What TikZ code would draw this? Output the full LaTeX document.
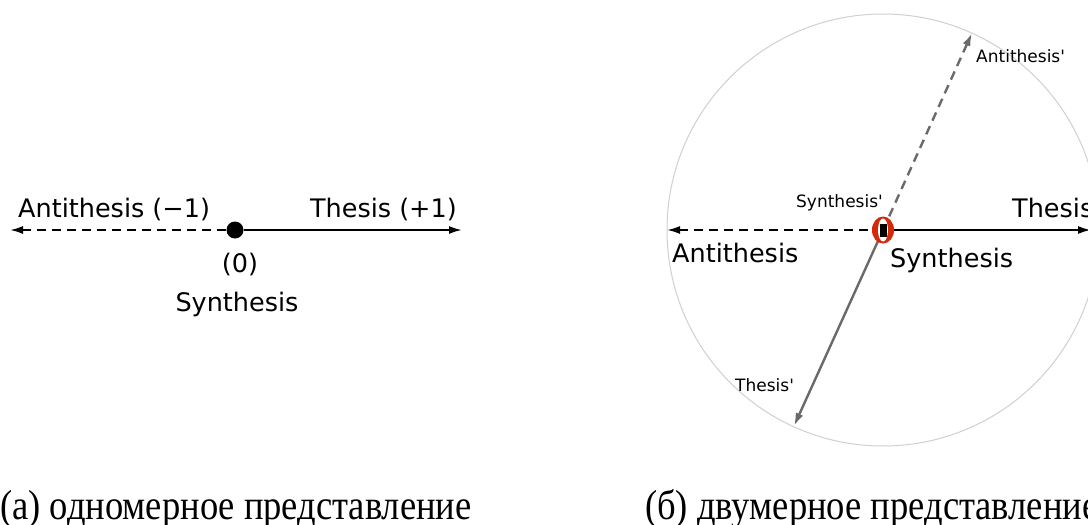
\documentclass[tikz,border=0pt]{standalone}
\usepackage{fontspec}
\setmainfont{Liberation Serif}
\newfontfamily\lab{DejaVu Sans}
\newfontfamily\capfont[FakeStretch=0.87]{Liberation Serif}
\usetikzlibrary{arrows.meta}
\definecolor{gline}{HTML}{6A6A6A}
\definecolor{ring}{HTML}{D0D0D0}
\definecolor{zred}{HTML}{D42A0A}
\tikzset{
  tip/.style={-{Latex[length=13pt,width=8pt]}},
  blackline/.style={line width=2pt, black, tip},
  dashline/.style={blackline, dash pattern=on 9.5pt off 5.5pt},
  grayline/.style={line width=2.4pt, gline, tip},
  graydash/.style={grayline, dash pattern=on 9pt off 6pt},
  biglab/.style={font=\lab\fontsize{25.5}{30}\selectfont, inner sep=0pt},
  smalllab/.style={font=\lab\fontsize{17}{20}\selectfont, inner sep=0pt},
  caption/.style={font=\capfont\fontsize{42}{46}\selectfont, inner sep=0pt, anchor=base west},
  dot/.style={circle, fill=black, minimum size=17pt, inner sep=0pt}
}
\begin{document}
\begin{tikzpicture}[x=1pt,y=-1pt]
\clip (0,0) rectangle (1088,525);
\fill[white] (0,0) rectangle (1088,525);
% ---------- (a) ----------
\node[dot] (s0) at (235,230) {};
\coordinate (aL) at (10,230);
\coordinate (tL) at (462,230);
\draw[dashline] (s0) -- (aL);
\draw[blackline] (s0) -- (tL);
\node[biglab, anchor=base west] (antiL) at (18,217) {Antithesis (−1)};
\node[biglab, anchor=base east] (thesL) at (457,217) {Thesis (+1)};
\node[biglab, anchor=base] (zeroL) at (240,272) {(0)};
\node[biglab, anchor=base] (synL) at (237,311) {Synthesis};
% ---------- (b) ----------
\coordinate (c) at (883,230);
\node[draw=ring, line width=1pt, circle, minimum size=432pt, inner sep=0pt] (ring) at (c) {};
\coordinate (aP) at (972,33);
\coordinate (tP) at (794,426);
\coordinate (aR) at (667,230);
\coordinate (tR) at (1091,230);
\draw[graydash] (c) -- (aP);
\draw[grayline] (c) -- (tP);
\draw[dashline] (c) -- (aR);
\draw[blackline] (c) -- (tR);
\fill[zred] (c) ellipse [x radius=11, y radius=13.5];
\fill[white] (c) ellipse [x radius=5, y radius=11.5];
\fill[black] (880,223.5) rectangle (886.5,236.5);
\node[biglab, anchor=base west] (antiR) at (672,262) {Antithesis};
\node[biglab, anchor=base west] (synR) at (890,267) {Synthesis};
\node[biglab, anchor=base west] (thesR) at (1012,217) {Thesis};
\node[smalllab, anchor=base east] (synP) at (883,207) {Synthesis'};
\node[smalllab, anchor=base west] (antiP) at (976,62) {Antithesis'};
\node[smalllab, anchor=base west] (thesP) at (735,391) {Thesis'};
% ---------- captions ----------
\node[caption] (capA) at (0,519) {(а) одномерное представление};
\node[caption] (capB) at (645,519) {(б) двумерное представление};
\end{tikzpicture}
\end{document}
